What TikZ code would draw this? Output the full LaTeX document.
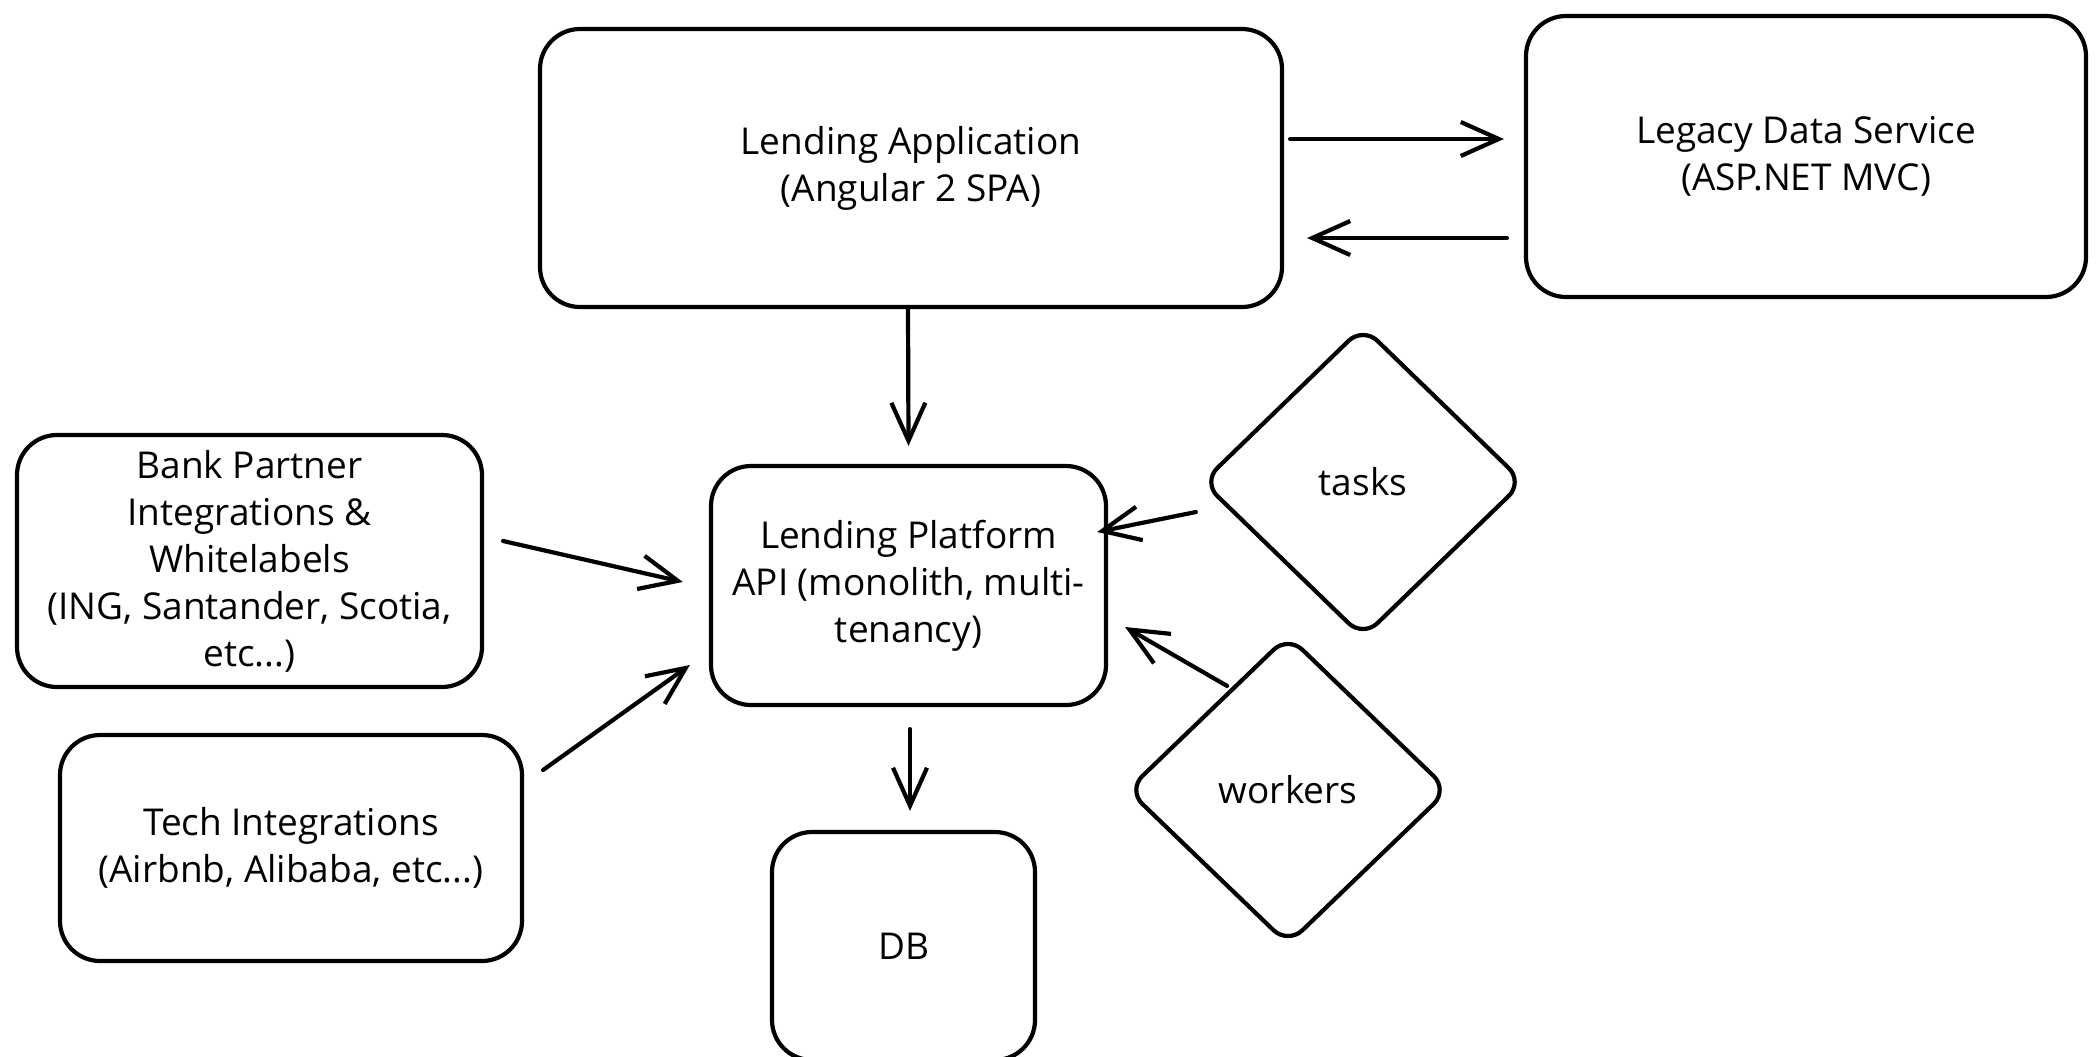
\documentclass[tikz,border=0pt]{standalone}
\usepackage{fontspec}
\setmainfont{Open Sans}
\usetikzlibrary{arrows.meta,shapes.geometric,calc}
\begin{document}
\begin{tikzpicture}[x=0.5pt,y=-0.5pt,
  txt/.style={font=\fontsize{18.5}{23.5}\selectfont},
  box/.style={draw=black, line width=2.1pt, rounded corners=20pt, align=center, inner sep=0pt, txt},
  dia/.style={draw=black, diamond, aspect=1, line width=2.1pt, rounded corners=10pt, inner sep=0pt, align=center, txt},
  arr/.style={line width=2.1pt, line cap=round, -{Straight Barb[length=19pt,width=17pt]}}]
\useasboundingbox (0,0) rectangle (2099,1056);
\fill[white] (0,0) rectangle (2099,1056);

\node[box, minimum width=371pt, minimum height=139pt] (la) at (911,168) {Lending Application\\(Angular 2 SPA)};
\node[box, minimum width=280pt, minimum height=140.5pt] (leg) at (1806,156.5) {Legacy Data Service\\(ASP.NET MVC)};
\node[box, minimum width=197.5pt, minimum height=119.5pt] (api) at (908.5,585.5) {Lending Platform\\API (monolith, multi-\\tenancy)};
\node[box, minimum width=232.5pt, minimum height=126pt] (bp) at (249.5,561) {Bank Partner\\Integrations \&\\Whitelabels\\(ING, Santander, Scotia,\\etc...)};
\node[box, minimum width=231pt, minimum height=113pt] (tech) at (291,848) {Tech Integrations\\(Airbnb, Alibaba, etc...)};
\node[box, minimum width=131.5pt, minimum height=114pt] (db) at (903.5,946) {DB};
\node[dia, minimum width=161pt, minimum height=156pt] (tasks) at (1363,482) {tasks};
\node[dia, minimum width=161pt, minimum height=155pt] (workers) at (1288,790) {workers};

\draw[arr] ($(la.east)+(6,-29)$) -- ($(leg.west)+(-20,-17.5)$);
\draw[arr] ($(leg.west)+(-17,81.5)$) -- ($(la.east)+(23,70)$);
\draw[arr] ($(la.south)+(-3,0)$) -- ($(api.north)+(0,-18)$);
\draw[arr] ($(api.south)+(1.5,22)$) -- ($(db.north)+(6.5,-19)$);
\draw[arr] ($(bp.east)+(19,-20)$) -- ($(api.west)+(-26,-3.5)$);
\draw[arr] ($(tech.east)+(19,-78)$) -- ($(api.west)+(-19,79.5)$);
\draw[arr] ($(tasks.west)+(-4,30)$) -- ($(api.east)+(-11,-53.5)$);
\draw[arr] ($(workers.north)+(-61,53)$) -- ($(api.east)+(17,41.5)$);
\end{tikzpicture}
\end{document}
